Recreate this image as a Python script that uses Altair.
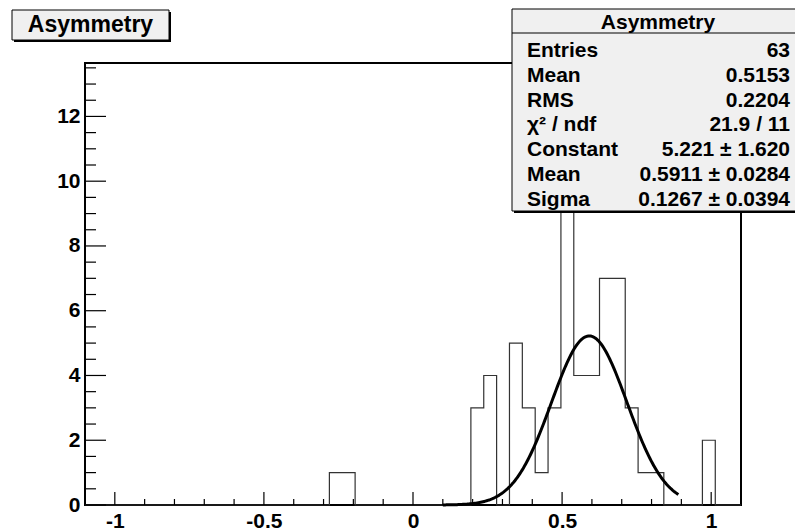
import altair as alt
import pandas as pd
import numpy as np

# ---------------- data ----------------
x_lo, x_hi = -1.1, 1.1
n_bins = 51
counts = [0, 0, 0, 0, 0, 0, 0, 0, 0, 0,
          0, 0, 0, 0, 0, 0, 0, 0, 0, 1,
          1, 0, 0, 0, 0, 0, 0, 0, 0, 0,
          3, 4, 0, 5, 3, 1, 3, 13, 4, 4,
          7, 7, 3, 1, 1, 0, 0, 0, 2, 0,
          0]
y_max = 13.65

fit_const, fit_mean, fit_sigma = 5.221, 0.5911, 0.1267
fit_lo, fit_hi = 0.1, 0.89

y_major = [0, 2, 4, 6, 8, 10, 12]
y_minor = [0.5, 1, 1.5, 2.5, 3, 3.5, 4.5, 5, 5.5, 6.5, 7, 7.5, 8.5, 9, 9.5,
           10.5, 11, 11.5, 12.5, 13, 13.5]
x_major = [-1, -0.5, 0, 0.5, 1]
x_minor = [-0.9, -0.8, -0.7, -0.6, -0.4, -0.3, -0.2, -0.1,
           0.1, 0.2, 0.3, 0.4, 0.6, 0.7, 0.8, 0.9]

title_text = "Asymmetry"
stat_labels = ["Entries", "Mean", "RMS", "\u03c7\u00b2 / ndf", "Constant", "Mean", "Sigma"]
stat_values = ["63", "0.5153", "0.2204", "21.9 / 11", "5.221 \u00b1 1.620",
               "0.5911 \u00b1 0.0284", "0.1267 \u00b1 0.0394"]

# ---------------- tables ----------------
bw = (x_hi - x_lo) / n_bins
edges = [x_lo + i * bw for i in range(n_bins + 1)]
hist_df = pd.DataFrame({"x": edges, "y": counts + [counts[-1]]})

fx = np.linspace(fit_lo, fit_hi, 200)
fit_df = pd.DataFrame({"x": fx,
                       "y": fit_const * np.exp(-0.5 * ((fx - fit_mean) / fit_sigma) ** 2)})

W, H = 656, 442
FONT = "Liberation Sans"

xs = alt.Scale(domain=[x_lo, x_hi], nice=False, zero=False)
ys = alt.Scale(domain=[0, y_max], nice=False, zero=False)

x_axis = alt.Axis(values=x_major, ticks=False, tickSize=0, domain=False, grid=False,
                  labelFont=FONT, labelFontWeight="bold", labelFontSize=21,
                  labelColor="black", labelPadding=5, labelExpr="datum.value",
                  labelFlush=False, labelOverlap=False, title=None)
y_axis = alt.Axis(values=y_major, ticks=False, tickSize=0, domain=False, grid=False,
                  labelFont=FONT, labelFontWeight="bold", labelFontSize=21,
                  labelColor="black", labelPadding=5, labelExpr="datum.value",
                  labelOverlap=False, title=None)

one = pd.DataFrame({"a": [0]})

frame = alt.Chart(one).mark_rect(filled=False, stroke="black", strokeWidth=2).encode(
    x=alt.value(0), x2=alt.value(W), y=alt.value(0), y2=alt.value(H))

hist = alt.Chart(hist_df).mark_line(interpolate="step-after", color="#333333",
                                    strokeWidth=1.2).encode(
    x=alt.X("x:Q", scale=xs, axis=x_axis),
    y=alt.Y("y:Q", scale=ys, axis=y_axis))

fit = alt.Chart(fit_df).mark_line(color="black", strokeWidth=3).encode(
    x=alt.X("x:Q", scale=xs), y=alt.Y("y:Q", scale=ys))

ytm = alt.Chart(pd.DataFrame({"v": y_major})).mark_rule(color="black", strokeWidth=1.2).encode(
    y=alt.Y("v:Q", scale=ys), x=alt.value(0), x2=alt.value(21))
ytn = alt.Chart(pd.DataFrame({"v": y_minor})).mark_rule(color="black", strokeWidth=1.2).encode(
    y=alt.Y("v:Q", scale=ys), x=alt.value(0), x2=alt.value(11))
xtm = alt.Chart(pd.DataFrame({"v": x_major})).mark_rule(color="black", strokeWidth=1.2).encode(
    x=alt.X("v:Q", scale=xs), y=alt.value(H), y2=alt.value(H - 13))
xtn = alt.Chart(pd.DataFrame({"v": x_minor})).mark_rule(color="black", strokeWidth=1.2).encode(
    x=alt.X("v:Q", scale=xs), y=alt.value(H), y2=alt.value(H - 6))


def box(x1, x2, y1, y2):
    shadow = alt.Chart(one).mark_rect(fill="black").encode(
        x=alt.value(x1 + 2), x2=alt.value(x2 + 2), y=alt.value(y1 + 2), y2=alt.value(y2 + 2))
    body = alt.Chart(one).mark_rect(fill="#f0f0f0", stroke="black", strokeWidth=1).encode(
        x=alt.value(x1), x2=alt.value(x2), y=alt.value(y1), y2=alt.value(y2))
    return [shadow, body]


def text(s, x, y, align="left", size=21):
    return alt.Chart(pd.DataFrame({"t": [s]})).mark_text(
        font=FONT, fontWeight="bold", fontSize=size, color="black",
        align=align, baseline="alphabetic").encode(
        text="t:N", x=alt.value(x), y=alt.value(y))


layers = [frame, hist, fit, ytm, ytn, xtm, xtn]

# title box
layers += box(-73, 84, -53, -23)
layers.append(text(title_text, 5.5, -31, align="center", size=23))

# stats box
layers += box(427, 712, -54, 148)
layers.append(alt.Chart(one).mark_rule(color="black", strokeWidth=1).encode(
    x=alt.value(427), x2=alt.value(712), y=alt.value(-30)))
layers.append(text(title_text, 573, -34, align="center", size=21))
row0, step = -5.7, 24.7
for i, (lab, val) in enumerate(zip(stat_labels, stat_values)):
    layers.append(text(lab, 442, row0 + i * step, align="left", size=21))
    layers.append(text(val, 705, row0 + i * step, align="right", size=21))

chart = alt.layer(*layers).properties(
    width=W, height=H,
    padding={"left": 85, "top": 63, "right": 54, "bottom": 24},
    autosize=alt.AutoSizeParams(type="none"),
    background="white",
).configure_view(strokeWidth=0)

chart.save("out.html", embed_options={"renderer": "svg", "actions": False})
